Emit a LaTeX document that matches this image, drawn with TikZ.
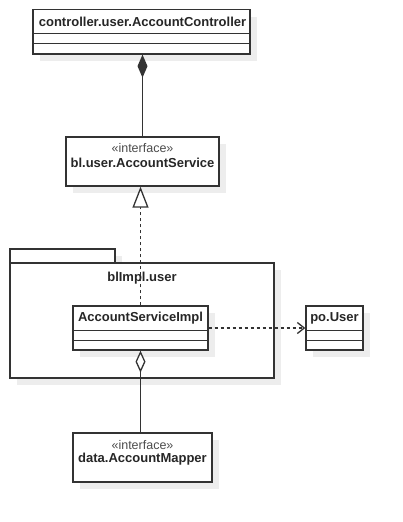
\documentclass[tikz,border=0pt]{standalone}
\usepackage{fontspec}
\setmainfont{Liberation Sans}
\usetikzlibrary{arrows.meta,shadows,positioning}

\tikzset{
  umlbox/.style={draw=black!80, fill=white, line width=1.3pt, inner sep=0pt,
    drop shadow={shadow xshift=7pt, shadow yshift=-7pt, fill=black!7, opacity=1}},
  umlline/.style={draw=black!80, line width=1.3pt},
  classname/.style={font=\bfseries\fontsize{13}{15}\selectfont, text=black!85},
  stereo/.style={font=\fontsize{12.5}{14}\selectfont, text=black!70},
  dashline/.style={umlline, dash pattern=on 3pt off 3pt},
}

\begin{document}
\begin{tikzpicture}[x=1pt, y=-1pt]
    \useasboundingbox (0,0) rectangle (403,522);

    % classes
    \node[umlbox, minimum width=217pt, minimum height=44.5pt] (ctrl) at (141.5,31.75) {};
    \node[classname] (ctrltitle) at (142.5,22) {controller.user.AccountController};
    \draw[umlline] ([yshift=-24.5pt]ctrl.north west) -- ([yshift=-24.5pt]ctrl.north east);
    \draw[umlline] ([yshift=-34.5pt]ctrl.north west) -- ([yshift=-34.5pt]ctrl.north east);

    \node[umlbox, minimum width=153pt, minimum height=49pt] (svc) at (142.5,161.5) {};
    \node[stereo] (svcstereo) at (142.5,148) {«interface»};
    \node[classname] (svctitle) at (142.5,163) {bl.user.AccountService};

    % package
    \node[umlbox, minimum width=105pt, minimum height=14pt] (pkgtab) at (62.5,256) {};
    \node[umlbox, minimum width=264pt, minimum height=115pt] (pkg) at (142,320.5) {};
    \node[classname] (pkgtitle) at (142,278) {blImpl.user};

    \node[umlbox, minimum width=135pt, minimum height=44pt] (impl) at (140.5,328) {};
    \node[classname] (impltitle) at (140.5,318) {AccountServiceImpl};
    \draw[umlline] ([yshift=-25pt]impl.north west) -- ([yshift=-25pt]impl.north east);
    \draw[umlline] ([yshift=-35pt]impl.north west) -- ([yshift=-35pt]impl.north east);

    \node[umlbox, minimum width=57pt, minimum height=44pt] (user) at (334.5,328) {};
    \node[classname] (usertitle) at (334.5,318) {po.User};
    \draw[umlline] ([yshift=-25pt]user.north west) -- ([yshift=-25pt]user.north east);
    \draw[umlline] ([yshift=-35pt]user.north west) -- ([yshift=-35pt]user.north east);

    \node[umlbox, minimum width=139pt, minimum height=49pt] (mapper) at (142.5,457.5) {};
    \node[stereo] (mapperstereo) at (142.5,445) {«interface»};
    \node[classname] (mappertitle) at (142.5,459) {data.AccountMapper};

    % relations
    \draw[umlline, -{Diamond[length=23pt, width=10pt, fill=black!80]}]
        (svc.north) -- (svc.north |- ctrl.south);
    \draw[dashline, -{Triangle[open, length=21pt, width=16pt, fill=white]}]
        (impl.north) -- (impl.north |- svc.south);
    \draw[dashline, -{Straight Barb[length=7pt, width=11pt]}]
        (impl.east) -- (user.west);
    \draw[umlline, {Diamond[open, length=22pt, width=10pt, fill=white]}-]
        (impl.south) -- (impl.south |- mapper.north);
\end{tikzpicture}
\end{document}
